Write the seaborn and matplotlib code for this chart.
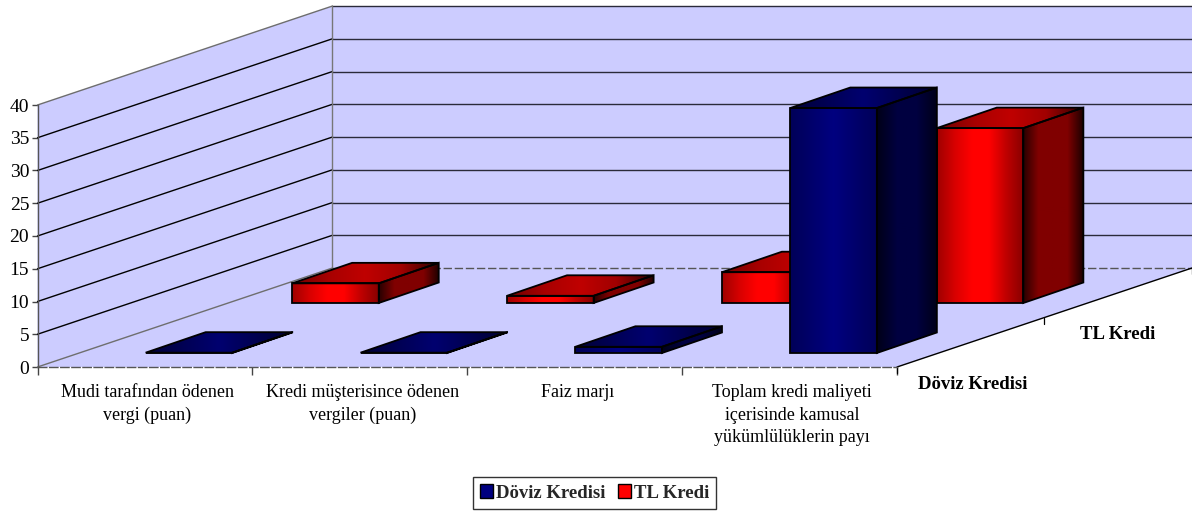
import numpy as np
import pandas as pd
import matplotlib
matplotlib.use("Agg")
import matplotlib.pyplot as plt
from matplotlib.patches import Patch, Polygon
import seaborn as sns

# Chart values
categories = [
    "Mudi tarafından ödenen\nvergi (puan)",
    "Kredi müşterisince ödenen\nvergiler (puan)",
    "Faiz marjı",
    "Toplam kredi maliyeti\niçerisinde kamusal\nyükümlülüklerin payı",
]
series_names = ["Döviz Kredisi", "TL Kredi"]
doviz_values = [0.05, 0.05, 0.95, 37.4]
tl_values = [3.0, 1.1, 4.7, 26.7]
value_ticks = [0, 5, 10, 15, 20, 25, 30, 35, 40]

sns.set_theme(style="white")
plt.rcParams["font.family"] = ["Liberation Serif", "DejaVu Serif"]

W, H = 1192, 514
FLOOR_LEFT, FLOOR_RIGHT, FLOOR_Y, TOP_Y = 37.5, 897.0, 367.0, 105.0
DEPTH_PX = (295.0, 99.0)
WALL_COLOR = "#CCCCFF"
BAR_DEPTH_PX = (60.0, 20.5)
SERIES_OFFSET_PX = {"Döviz Kredisi": (44.0, 14.0), "TL Kredi": (190.5, 64.0)}

# Gradients for the faces of each series: front, side, top
shades = {
    "Döviz Kredisi": {
        "front": sns.blend_palette(["#000058", "#000080", "#000058"], 64),
        "side": sns.blend_palette(["#000018", "#000040", "#000040", "#000018"], 64),
        "top": sns.blend_palette(["#000038", "#000070", "#000030"], 64),
    },
    "TL Kredi": {
        "front": sns.blend_palette(["#A00000", "#D80000", "#FF0000", "#FF0000", "#C00000", "#880000"], 64),
        "side": sns.blend_palette(["#2A0000", "#800000", "#800000", "#800000", "#200000"], 64),
        "top": sns.blend_palette(["#700000", "#A80000", "#C00000", "#A00000", "#300000"], 64),
    },
}
legend_colors = {"Döviz Kredisi": "#000080", "TL Kredi": "#FF0000"}


def plane_axes(left_px, bottom_px):
    """Axes for a vertical plane: one unit per category across, value upward."""
    return fig.add_axes([
        left_px / W,
        1 - bottom_px / H,
        (FLOOR_RIGHT - FLOOR_LEFT) / W,
        (FLOOR_Y - TOP_Y) / H,
    ])


def gradient_face(ax, cmap_colors, x0, x1, y0, y1, outline):
    poly = Polygon(outline, closed=True, fc="none", ec="black", lw=1.3,
                   clip_on=False, zorder=4, joinstyle="miter")
    ax.add_patch(poly)
    if y1 - y0 <= 0:
        return
    img = ax.imshow(np.array(cmap_colors)[None, :, :], extent=(x0, x1, y0, y1),
                    aspect="auto", interpolation="bilinear", zorder=3)
    img.set_clip_path(poly)
    img.set_clip_box(fig.bbox)


fig = plt.figure(figsize=(W / 100, H / 100), dpi=100, facecolor="white")

# Front plane carries the real value axis and the walls and floor
base = plane_axes(FLOOR_LEFT, FLOOR_Y)
base.set_xlim(0, 4)
base.set_ylim(0, 40)
base.patch.set_visible(False)
px_x = (FLOOR_RIGHT - FLOOR_LEFT) / 4
px_y = (FLOOR_Y - TOP_Y) / 40
depth_x = DEPTH_PX[0] / px_x
depth_y = DEPTH_PX[1] / px_y


def project(x, v, d):
    return x + d * depth_x, v + d * depth_y


def wall(points, **kw):
    base.add_patch(Polygon([project(*p) for p in points], closed=True, fc=WALL_COLOR,
                           ec="none", clip_on=False, zorder=0, **kw))


wall([(0, 0, 0), (0, 40, 0), (0, 40, 1), (0, 0, 1)])
wall([(0, 0, 1), (0, 40, 1), (4, 40, 1), (4, 0, 1)])
wall([(0, 0, 0), (0, 0, 1), (4, 0, 1), (4, 0, 0)])

for v in value_ticks:
    # Grid line across the left wall and the back wall
    (xa, ya), (xb, yb), (xc, yc) = project(0, v, 0), project(0, v, 1), project(4, v, 1)
    edge = v == 0
    base.plot([xa, xb], [ya, yb], color="#6E6E6E" if v in (0, 40) else "black",
              lw=1.0, clip_on=False, zorder=1)
    base.plot([xb, xc], [yb, yc], color="#555555" if edge else "#2A2A3A",
              lw=1.0, ls=(0, (6, 2)) if edge else "-", clip_on=False, zorder=1)

(xb0, yb0), (xb1, yb1) = project(0, 0, 1), project(0, 40, 1)
base.plot([xb0, xb1], [yb0, yb1], color="#777777", lw=1.0, clip_on=False, zorder=1)

# Edge of the floor toward the series axis, with its ticks and names
(x_f, y_f), (x_r, y_r) = project(4, 0, 0), project(4, 0, 1)
base.plot([x_f, x_r], [y_f, y_r], color="black", lw=1.0, clip_on=False, zorder=1)
for d in (0, 0.5, 1):
    x_t, y_t = project(4, 0, d)
    base.plot([x_t, x_t], [y_t, y_t - 6 / px_y], color="black", lw=0.9,
              clip_on=False, zorder=1)
x_lab, y_lab = project(4, 0, 0.07)
base.text(x_lab, y_lab - 24 / px_y, series_names[0], fontsize=13.5, fontweight="bold",
          ha="left", va="center", color="black", clip_on=False)
x_lab, y_lab = project(4, 0, 0.62)
base.text(x_lab, y_lab - 29 / px_y, series_names[1], fontsize=13.5, fontweight="bold",
          ha="left", va="center", color="black", clip_on=False)

base.set_yticks(value_ticks)
base.set_xticks(range(5))
base.set_xticklabels([])
base.tick_params(axis="y", length=4.5, width=1, color="#444444", pad=1.5, labelsize=14,
                 labelcolor="black", left=True)
base.tick_params(axis="x", length=6, width=1, color="#444444", bottom=True)
for side in ("top", "right"):
    base.spines[side].set_visible(False)
base.spines["left"].set_color("#555555")
base.spines["left"].set_linewidth(1.0)
base.spines["bottom"].set_color("#555555")
base.spines["bottom"].set_linewidth(1.0)
base.spines["bottom"].set_linestyle((0, (6, 2)))
for i, label in enumerate(categories):
    base.text(i + 0.5 + 2.5 / px_x, -2.65, label, ha="center", va="top", fontsize=13,
              color="black", linespacing=1.42, clip_on=False)

frame = pd.DataFrame({
    "kategori": categories * 2,
    "seri": np.repeat(series_names, len(categories)),
    "deger": doviz_values + tl_values,
})

# Rear series first so the nearer bars cover it
for name in reversed(series_names):
    off_x, off_y = SERIES_OFFSET_PX[name]
    ax = plane_axes(FLOOR_LEFT + off_x, FLOOR_Y - off_y)
    sns.barplot(data=frame[frame["seri"] == name], x="kategori", y="deger", width=0.403,
                color=legend_colors[name], ax=ax, saturation=1, errorbar=None)
    dx = BAR_DEPTH_PX[0] / px_x
    dy = BAR_DEPTH_PX[1] / px_y
    for bar in ax.patches:
        x0, w, h = bar.get_x(), bar.get_width(), bar.get_height()
        x1 = x0 + w
        top = [(x0, h), (x1, h), (x1 + dx, h + dy), (x0 + dx, h + dy)]
        side = [(x1, 0), (x1 + dx, dy), (x1 + dx, h + dy), (x1, h)]
        gradient_face(ax, shades[name]["top"], x0, x1 + dx, h, h + dy, top)
        gradient_face(ax, shades[name]["side"], x1, x1 + dx, 0, h + dy, side)
        gradient_face(ax, shades[name]["front"], x0, x1, 0, h,
                      [(x0, 0), (x1, 0), (x1, h), (x0, h)])
        bar.set_visible(False)
    ax.set_xlim(-0.5, 3.5)
    ax.set_ylim(0, 40)
    ax.axis("off")

handles = [Patch(facecolor=legend_colors[n], edgecolor="black", lw=1.0, label=n)
           for n in series_names]
fig.legend(handles=handles, loc="center", bbox_to_anchor=(594.5 / W, 1 - 493 / H),
           ncol=2, frameon=True, fancybox=False, framealpha=1, edgecolor="#333333",
           prop={"weight": "bold", "size": 13.5}, handlelength=0.7, handleheight=0.7,
           handletextpad=0.15, columnspacing=0.65, borderpad=0.4, borderaxespad=0)

fig.savefig("out.png", dpi=100)
